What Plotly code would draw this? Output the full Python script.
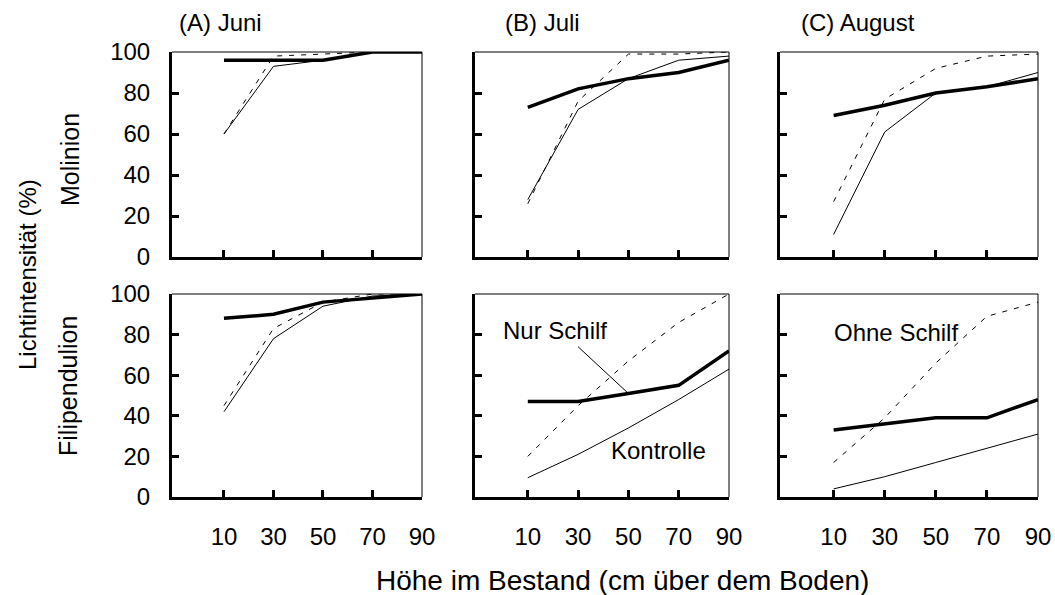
import plotly.graph_objects as go
from plotly.subplots import make_subplots

# ---------------- data ----------------
heights = [10, 30, 50, 70, 90]
months = ["(A) Juni", "(B) Juli", "(C) August"]
rows_labels = ["Molinion", "Filipendulion"]
y_ticks = [0, 20, 40, 60, 80, 100]

# Molinion (top row)
mol_nur = [[96, 96, 96, 100, 100], [73, 82, 87, 90, 96], [69, 74, 80, 83, 87]]
mol_kon = [[60, 93, 96, 100, 100], [28, 72, 87, 96, 98], [11, 61, 80, 83, 90]]
mol_ohne = [[60, 98, 99, 100, 100], [26, 76, 99, 99, 100], [27, 77, 92, 98, 99]]

# Filipendulion (bottom row)
fil_nur = [[88, 90, 96, 98, 100], [47, 47, 51, 55, 72], [33, 36, 39, 39, 48]]
fil_kon = [[42, 78, 94, 99, 100], [9.5, 21, 34, 48, 63], [4, 10, 17, 24, 31]]
fil_ohne = [[45, 83, 96, 100, 100], [20, 45, 67, 86, 100], [17, 39, 66, 89, 96]]

FONT = "Liberation Sans, Arial, sans-serif"
W, H = 1055, 595


def px_x(p):
    return p / W


def px_y(p):
    return 1 - p / H


fig = make_subplots(rows=2, cols=3)

col_px = [(172, 422), (475, 729), (780, 1038)]
row_px = [(52, 257), (294, 497)]

data_rows = [(mol_nur, mol_kon, mol_ohne), (fil_nur, fil_kon, fil_ohne)]

for r in range(2):
    nur, kon, ohne = data_rows[r]
    for c in range(3):
        fig.add_trace(go.Scatter(x=heights, y=ohne[c], mode="lines",
                                 line=dict(color="black", width=1, dash="5px,7px"),
                                 showlegend=False, hoverinfo="skip"), row=r + 1, col=c + 1)
        fig.add_trace(go.Scatter(x=heights, y=kon[c], mode="lines",
                                 line=dict(color="black", width=1),
                                 showlegend=False, hoverinfo="skip"), row=r + 1, col=c + 1)
        fig.add_trace(go.Scatter(x=heights, y=nur[c], mode="lines",
                                 line=dict(color="black", width=3.5),
                                 showlegend=False, hoverinfo="skip"), row=r + 1, col=c + 1)

shapes = []
for r in range(2):
    for c in range(3):
        idx = r * 3 + c + 1
        xa = "xaxis" if idx == 1 else f"xaxis{idx}"
        ya = "yaxis" if idx == 1 else f"yaxis{idx}"
        x0, x1 = col_px[c]
        y0, y1 = row_px[r]
        fig.layout[xa].update(
            domain=[px_x(x0), px_x(x1)], range=[-11, 90], tickvals=heights,
            ticktext=[str(v) for v in heights], showticklabels=(r == 1),
            ticks="inside", ticklen=7, tickwidth=3, tickcolor="black",
            showline=True, linewidth=3, linecolor="black", showgrid=False,
            zeroline=False, automargin=False, ticklabelstandoff=16,
            tickfont=dict(family=FONT, size=24, color="black"))
        fig.layout[ya].update(
            domain=[px_y(y1), px_y(y0)], range=[0, 100], tickvals=y_ticks,
            showticklabels=(c == 0), ticks="inside", ticklen=7, tickwidth=3,
            tickcolor="black", showline=True, linewidth=3, linecolor="black",
            showgrid=False, zeroline=False, automargin=False, ticklabelstandoff=14,
            tickfont=dict(family=FONT, size=24, color="black"))
        xr = "x" if idx == 1 else f"x{idx}"
        yr = "y" if idx == 1 else f"y{idx}"
        shapes.append(dict(type="line", xref=f"{xr} domain", yref=f"{yr} domain",
                           x0=0, x1=1, y0=1, y1=1, line=dict(color="black", width=1)))
        shapes.append(dict(type="line", xref=f"{xr} domain", yref=f"{yr} domain",
                           x0=1, x1=1, y0=0, y1=1, line=dict(color="black", width=1)))

# pointer line for "Nur Schilf" (panel B bottom, axes x5/y5)
shapes.append(dict(type="line", xref="x5", yref="y5", x0=30, y0=74, x1=50, y1=51,
                   line=dict(color="black", width=1)))

annotations = []
title_x = [220, 542, 858]
for c in range(3):
    annotations.append(dict(text=months[c], x=px_x(title_x[c]), y=px_y(23),
                            xref="paper", yref="paper", showarrow=False,
                            xanchor="center", yanchor="middle",
                            font=dict(family=FONT, size=24, color="black")))
annotations.append(dict(text=rows_labels[0], x=px_x(70), y=px_y(160), xref="paper", yref="paper",
                        showarrow=False, textangle=-90, xanchor="center", yanchor="middle",
                        font=dict(family=FONT, size=25, color="black")))
annotations.append(dict(text=rows_labels[1], x=px_x(68), y=px_y(386), xref="paper", yref="paper",
                        showarrow=False, textangle=-90, xanchor="center", yanchor="middle",
                        font=dict(family=FONT, size=25, color="black")))
annotations.append(dict(text="Lichtintensität (%)", x=px_x(27), y=px_y(275), xref="paper", yref="paper",
                        showarrow=False, textangle=-90, xanchor="center", yanchor="middle",
                        font=dict(family=FONT, size=24, color="black")))
annotations.append(dict(text="Höhe im Bestand (cm über dem Boden)", x=px_x(622), y=px_y(580),
                        xref="paper", yref="paper", showarrow=False,
                        xanchor="center", yanchor="middle",
                        font=dict(family=FONT, size=28, color="black")))
annotations.append(dict(text="Nur Schilf", x=21, y=82, xref="x5", yref="y5", showarrow=False,
                        xanchor="center", yanchor="middle",
                        font=dict(family=FONT, size=24, color="black")))
annotations.append(dict(text="Kontrolle", x=62, y=23, xref="x5", yref="y5", showarrow=False,
                        xanchor="center", yanchor="middle",
                        font=dict(family=FONT, size=24, color="black")))
annotations.append(dict(text="Ohne Schilf", x=34.5, y=81, xref="x6", yref="y6", showarrow=False,
                        xanchor="center", yanchor="middle",
                        font=dict(family=FONT, size=24, color="black")))

fig.update_layout(width=W, height=H, margin=dict(l=0, r=0, t=0, b=0),
                  paper_bgcolor="white", plot_bgcolor="white",
                  shapes=shapes, annotations=annotations, showlegend=False)

fig.write_html("out.html",
               config={"displayModeBar": False},
               post_script="document.body.style.margin='0px';"
                           "document.body.style.overflow='hidden';")
